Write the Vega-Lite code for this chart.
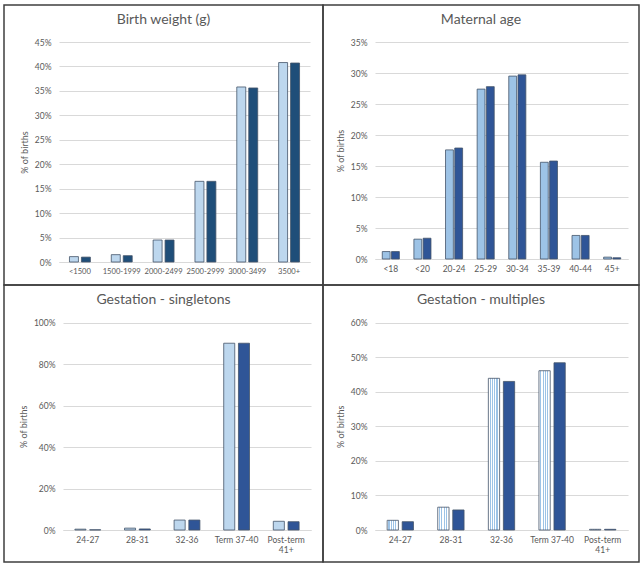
{
  "$schema": "https://vega.github.io/schema/vega-lite/v6.json",
  "padding": {"left": 3, "top": 4, "right": 4, "bottom": 4},
  "background": "white",
  "data": {"values": [
    {"panel": "bw", "category": "<1500", "series": "Series 1", "value": 1.1},
    {"panel": "bw", "category": "<1500", "series": "Series 2", "value": 1.0},
    {"panel": "bw", "category": "1500-1999", "series": "Series 1", "value": 1.5},
    {"panel": "bw", "category": "1500-1999", "series": "Series 2", "value": 1.3},
    {"panel": "bw", "category": "2000-2499", "series": "Series 1", "value": 4.5},
    {"panel": "bw", "category": "2000-2499", "series": "Series 2", "value": 4.5},
    {"panel": "bw", "category": "2500-2999", "series": "Series 1", "value": 16.5},
    {"panel": "bw", "category": "2500-2999", "series": "Series 2", "value": 16.5},
    {"panel": "bw", "category": "3000-3499", "series": "Series 1", "value": 35.8},
    {"panel": "bw", "category": "3000-3499", "series": "Series 2", "value": 35.6},
    {"panel": "bw", "category": "3500+", "series": "Series 1", "value": 40.8},
    {"panel": "bw", "category": "3500+", "series": "Series 2", "value": 40.7},
    {"panel": "ma", "category": "<18", "series": "Series 1", "value": 1.2},
    {"panel": "ma", "category": "<18", "series": "Series 2", "value": 1.2},
    {"panel": "ma", "category": "<20", "series": "Series 1", "value": 3.2},
    {"panel": "ma", "category": "<20", "series": "Series 2", "value": 3.35},
    {"panel": "ma", "category": "20-24", "series": "Series 1", "value": 17.6},
    {"panel": "ma", "category": "20-24", "series": "Series 2", "value": 17.9},
    {"panel": "ma", "category": "25-29", "series": "Series 1", "value": 27.4},
    {"panel": "ma", "category": "25-29", "series": "Series 2", "value": 27.8},
    {"panel": "ma", "category": "30-34", "series": "Series 1", "value": 29.5},
    {"panel": "ma", "category": "30-34", "series": "Series 2", "value": 29.7},
    {"panel": "ma", "category": "35-39", "series": "Series 1", "value": 15.6},
    {"panel": "ma", "category": "35-39", "series": "Series 2", "value": 15.8},
    {"panel": "ma", "category": "40-44", "series": "Series 1", "value": 3.8},
    {"panel": "ma", "category": "40-44", "series": "Series 2", "value": 3.8},
    {"panel": "ma", "category": "45+", "series": "Series 1", "value": 0.3},
    {"panel": "ma", "category": "45+", "series": "Series 2", "value": 0.2},
    {"panel": "gs", "category": "24-27", "series": "Series 1", "value": 0.4},
    {"panel": "gs", "category": "24-27", "series": "Series 2", "value": 0.1},
    {"panel": "gs", "category": "28-31", "series": "Series 1", "value": 0.9},
    {"panel": "gs", "category": "28-31", "series": "Series 2", "value": 0.5},
    {"panel": "gs", "category": "32-36", "series": "Series 1", "value": 4.8},
    {"panel": "gs", "category": "32-36", "series": "Series 2", "value": 4.8},
    {"panel": "gs", "category": "Term 37-40", "series": "Series 1", "value": 90.1},
    {"panel": "gs", "category": "Term 37-40", "series": "Series 2", "value": 90.1},
    {"panel": "gs", "category": "Post-term 41+", "series": "Series 1", "value": 4.2},
    {"panel": "gs", "category": "Post-term 41+", "series": "Series 2", "value": 4.0},
    {"panel": "gm", "category": "24-27", "series": "Series 1", "value": 2.8},
    {"panel": "gm", "category": "24-27", "series": "Series 2", "value": 2.4},
    {"panel": "gm", "category": "28-31", "series": "Series 1", "value": 6.6},
    {"panel": "gm", "category": "28-31", "series": "Series 2", "value": 5.8},
    {"panel": "gm", "category": "32-36", "series": "Series 1", "value": 43.9},
    {"panel": "gm", "category": "32-36", "series": "Series 2", "value": 43.0},
    {"panel": "gm", "category": "Term 37-40", "series": "Series 1", "value": 46.1},
    {"panel": "gm", "category": "Term 37-40", "series": "Series 2", "value": 48.4},
    {"panel": "gm", "category": "Post-term 41+", "series": "Series 1", "value": 0.2},
    {"panel": "gm", "category": "Post-term 41+", "series": "Series 2", "value": 0.2}
  ]},
  "spacing": 0,
  "bounds": "flush",
  "columns": 2,
  "concat": [
    {
      "width": 319, "height": 280,
      "title": {"text": "Birth weight (g)"},
      "transform": [{"filter": "datum.panel === 'bw'"}],
      "mark": {"type": "bar", "stroke": "#44546a", "strokeWidth": 0.8},
      "encoding": {
        "x": {"field": "category", "type": "nominal",
          "sort": ["<1500", "1500-1999", "2000-2499", "2500-2999", "3000-3499", "3500+"],
          "scale": {"range": [55, 306], "paddingInner": 0.5, "paddingOuter": 0.25},
          "axis": {"title": null, "labelAngle": 0, "offset": -23, "ticks": false, "labelPadding": 5, "labelFontSize": 7.6}},
        "xOffset": {"field": "series", "type": "nominal", "scale": {"paddingInner": 0.25}},
        "y": {"field": "value", "type": "quantitative",
          "scale": {"domain": [0, 45], "range": [257, 37], "nice": false},
          "axis": {"title": "% of births", "values": [0, 5, 10, 15, 20, 25, 30, 35, 40, 45], "labelExpr": "datum.value + '%'", "offset": -55}},
        "fill": {"condition": {"test": "datum.series === 'Series 1'", "value": "#bdd7ee"}, "value": "#1f4e79"}
      }
    },
    {
      "width": 316, "height": 280,
      "title": {"text": "Maternal age"},
      "transform": [{"filter": "datum.panel === 'ma'"}],
      "mark": {"type": "bar", "stroke": "#44546a", "strokeWidth": 0.8},
      "encoding": {
        "x": {"field": "category", "type": "nominal",
          "sort": ["<18", "<20", "20-24", "25-29", "30-34", "35-39", "40-44", "45+"],
          "scale": {"range": [52, 305], "paddingInner": 0.46, "paddingOuter": 0.23},
          "axis": {"title": null, "labelAngle": 0, "offset": -26, "ticks": false, "labelPadding": 5}},
        "xOffset": {"field": "series", "type": "nominal", "scale": {"paddingInner": 0.15}},
        "y": {"field": "value", "type": "quantitative",
          "scale": {"domain": [0, 35], "range": [254, 37], "nice": false},
          "axis": {"title": "% of births", "values": [0, 5, 10, 15, 20, 25, 30, 35], "labelExpr": "datum.value + '%'", "offset": -52}},
        "fill": {"condition": {"test": "datum.series === 'Series 1'", "value": "#9dc3e6"}, "value": "#2f5597"}
      }
    },
    {
      "width": 319, "height": 277,
      "title": {"text": "Gestation - singletons"},
      "transform": [{"filter": "datum.panel === 'gs'"}],
      "mark": {"type": "bar", "stroke": "#44546a", "strokeWidth": 0.8},
      "encoding": {
        "x": {"field": "category", "type": "nominal",
          "sort": ["24-27", "28-31", "32-36", "Term 37-40", "Post-term 41+"],
          "scale": {"range": [59, 307], "paddingInner": 0.48, "paddingOuter": 0.24},
          "axis": {"title": null, "labelAngle": 0, "offset": -32, "ticks": false, "labelPadding": 5,
            "labelExpr": "datum.value === 'Post-term 41+' ? ['Post-term', '41+'] : datum.label"}},
        "xOffset": {"field": "series", "type": "nominal", "scale": {"paddingInner": 0.25}},
        "y": {"field": "value", "type": "quantitative",
          "scale": {"domain": [0, 100], "range": [245, 37.7], "nice": false},
          "axis": {"title": "% of births", "values": [0, 20, 40, 60, 80, 100], "labelExpr": "datum.value + '%'", "offset": -59}},
        "fill": {"condition": {"test": "datum.series === 'Series 1'", "value": "#bdd7ee"}, "value": "#2f5597"}
      }
    },
    {
      "width": 316, "height": 277,
      "title": {"text": "Gestation - multiples"},
      "transform": [{"filter": "datum.panel === 'gm'"}],
      "mark": {"type": "bar", "stroke": "#44546a", "strokeWidth": 0.8},
      "encoding": {
        "x": {"field": "category", "type": "nominal",
          "sort": ["24-27", "28-31", "32-36", "Term 37-40", "Post-term 41+"],
          "scale": {"range": [52, 305], "paddingInner": 0.48, "paddingOuter": 0.24},
          "axis": {"title": null, "labelAngle": 0, "offset": -32, "ticks": false, "labelPadding": 5,
            "labelExpr": "datum.value === 'Post-term 41+' ? ['Post-term', '41+'] : datum.label"}},
        "xOffset": {"field": "series", "type": "nominal", "scale": {"paddingInner": 0.25}},
        "y": {"field": "value", "type": "quantitative",
          "scale": {"domain": [0, 60], "range": [245, 37.7], "nice": false},
          "axis": {"title": "% of births", "values": [0, 10, 20, 30, 40, 50, 60], "labelExpr": "datum.value + '%'", "offset": -52}},
        "fill": {"condition": {"test": "datum.series === 'Series 1'",
          "value": {"gradient": "linear", "x1": 0, "x2": 1, "y1": 0, "y2": 0, "stops": [
            {"offset": 0, "color": "#ffffff"}, {"offset": 0.12, "color": "#ffffff"},
            {"offset": 0.12, "color": "#9dc3e6"}, {"offset": 0.22, "color": "#9dc3e6"},
            {"offset": 0.22, "color": "#ffffff"}, {"offset": 0.32, "color": "#ffffff"},
            {"offset": 0.32, "color": "#9dc3e6"}, {"offset": 0.42, "color": "#9dc3e6"},
            {"offset": 0.42, "color": "#ffffff"}, {"offset": 0.52, "color": "#ffffff"},
            {"offset": 0.52, "color": "#9dc3e6"}, {"offset": 0.62, "color": "#9dc3e6"},
            {"offset": 0.62, "color": "#ffffff"}, {"offset": 0.72, "color": "#ffffff"},
            {"offset": 0.72, "color": "#9dc3e6"}, {"offset": 0.82, "color": "#9dc3e6"},
            {"offset": 0.82, "color": "#ffffff"}, {"offset": 1, "color": "#ffffff"}
          ]}}, "value": "#2f5597"}
      }
    }
  ],
  "resolve": {"scale": {"x": "independent", "y": "independent", "xOffset": "independent"}},
  "config": {
    "view": {"stroke": "#3f3f3f", "strokeWidth": 1.5},
    "concat": {"spacing": 0},
    "title": {"font": "Lato", "fontSize": 14, "fontWeight": "normal", "color": "#595959", "anchor": "middle", "frame": "group", "baseline": "top", "offset": -22},
    "axis": {"labelFont": "Lato", "titleFont": "Lato", "labelColor": "#595959", "titleColor": "#595959", "labelFontSize": 8.5, "titleFontSize": 9, "titleFontWeight": "normal", "gridColor": "#d9d9d9", "domainColor": "#d9d9d9", "ticks": false},
    "axisY": {"domain": false, "labelPadding": 8, "titlePadding": 5},
    "axisX": {"grid": false}
  }
}
